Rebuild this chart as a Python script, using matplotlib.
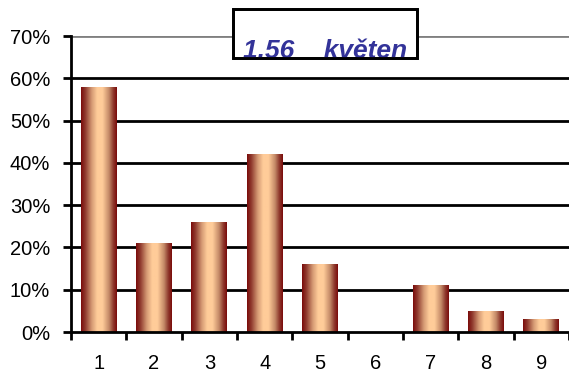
import numpy as np
import matplotlib
matplotlib.use("Agg")
import matplotlib.pyplot as plt
from matplotlib.colors import LinearSegmentedColormap
from matplotlib.patches import Rectangle
from matplotlib.ticker import FixedLocator, NullFormatter

categories = ["1", "2", "3", "4", "5", "6", "7", "8", "9"]
values = [0.58, 0.21, 0.26, 0.42, 0.16, 0.0, 0.11, 0.05, 0.03]
yticks = [0.0, 0.1, 0.2, 0.3, 0.4, 0.5, 0.6, 0.7]
ytick_labels = ["0%", "10%", "20%", "30%", "40%", "50%", "60%", "70%"]
title_text = "1,56    květen"

plt.rcParams['font.family'] = ['Liberation Sans', 'DejaVu Sans']

W, H = 569, 379
fig = plt.figure(figsize=(W / 100, H / 100), dpi=100)
ax = fig.add_axes([71 / W, 1 - 332 / H, 1 - 71 / W, (332 - 36) / H])

x = np.arange(len(categories))
ax.set_xlim(-0.5, len(categories) - 0.5)
ax.set_ylim(0, 0.7)

# gridlines
for yv in yticks[1:]:
    col = "#808080" if yv == yticks[-1] else "black"
    ax.axhline(yv, color=col, lw=2.0, zorder=1)

cmap = LinearSegmentedColormap.from_list(
    "copper_grad",
    [(0.0, "#7a0a0a"), (0.12, "#8f3a2e"), (0.3, "#d59a74"), (0.45, "#ffcc99"),
     (0.6, "#ffcc99"), (0.78, "#c48a68"), (0.9, "#8f3a2e"), (1.0, "#7a0a0a")])
grad = np.linspace(0, 1, 256).reshape(1, -1)

bars = ax.bar(x, values, width=0.65, color="none", edgecolor="none", zorder=3)
for b in bars:
    if b.get_height() <= 0:
        continue
    x0, w, h = b.get_x(), b.get_width(), b.get_height()
    im = ax.imshow(grad, cmap=cmap, aspect="auto", extent=(x0, x0 + w, 0, h),
                   zorder=3, interpolation="bilinear")
    im.set_clip_path(b)
ax.set_xlim(-0.5, len(categories) - 0.5)
ax.set_ylim(0, 0.7)

# spines
for s in ["top", "right"]:
    ax.spines[s].set_visible(False)
ax.spines["left"].set_linewidth(2.0)
ax.spines["bottom"].set_linewidth(2.0)
ax.spines["left"].set_zorder(5)
ax.spines["bottom"].set_zorder(5)

ax.set_yticks(yticks)
ax.set_yticklabels(ytick_labels, fontsize=14.5)
ax.tick_params(axis="y", direction="out", length=6, width=2, pad=9)

ax.xaxis.set_major_locator(FixedLocator(np.arange(-0.5, len(categories), 1.0)))
ax.xaxis.set_major_formatter(NullFormatter())
ax.xaxis.set_minor_locator(FixedLocator(x))
ax.set_xticklabels(categories, minor=True, fontsize=14.5)
ax.tick_params(axis="x", which="major", direction="out", length=6, width=2)
ax.tick_params(axis="x", which="minor", length=0, pad=16)

# title box (clips text)
box = Rectangle((233 / W, 1 - 58 / H), (417 - 233) / W, (58 - 9) / H,
                transform=fig.transFigure, facecolor="white", edgecolor="black",
                lw=2.0, zorder=10)
fig.add_artist(box)
t = fig.text(243 / W, 1 - 58.5 / H, title_text, fontsize=19, fontweight="bold",
             fontstyle="italic", color="#333399", ha="left", va="baseline", zorder=11)
t.set_clip_path(box)
border = Rectangle((233 / W, 1 - 58 / H), (417 - 233) / W, (58 - 9) / H,
                   transform=fig.transFigure, facecolor="none", edgecolor="black",
                   lw=2.0, zorder=12)
fig.add_artist(border)

fig.savefig("out.png", dpi=100)
